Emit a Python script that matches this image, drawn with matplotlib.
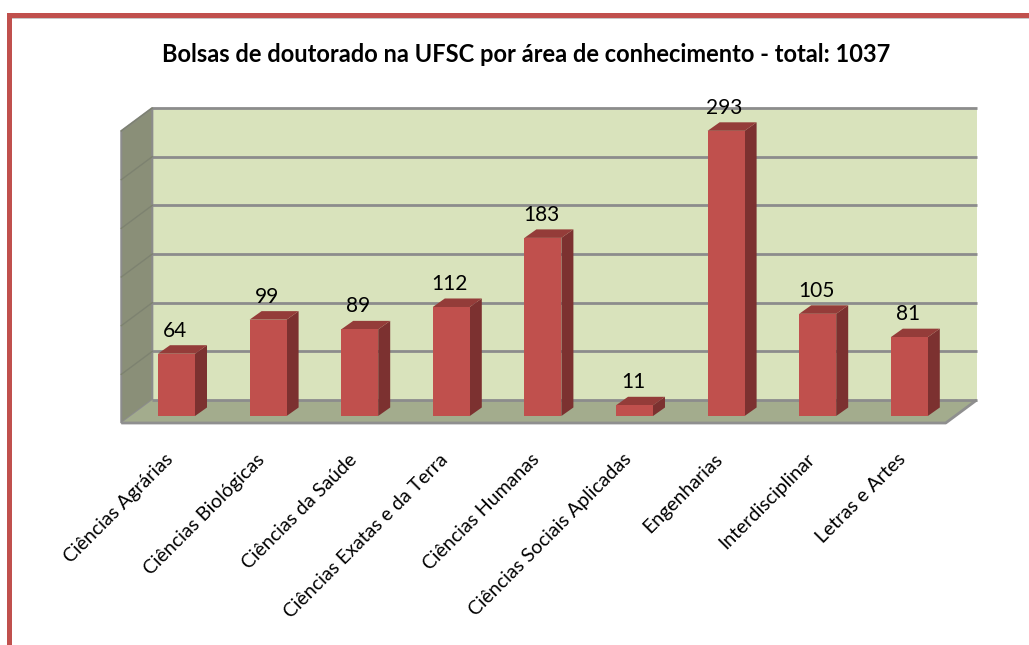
import numpy as np
import matplotlib
matplotlib.use('Agg')
import matplotlib.pyplot as plt
from matplotlib.patches import Polygon, Rectangle
from matplotlib.transforms import ScaledTranslation

categories = ['Ciências Agrárias', 'Ciências Biológicas', 'Ciências da Saúde',
              'Ciências Exatas e da Terra', 'Ciências Humanas', 'Ciências Sociais Aplicadas',
              'Engenharias', 'Interdisciplinar', 'Letras e Artes']
bolsas = [64, 99, 89, 112, 183, 11, 293, 105, 81]
grid_values = [0, 50, 100, 150, 200, 250, 300]
title = 'Bolsas de doutorado na UFSC por área de conhecimento - total: 1037'

W, H = 1029, 645
plt.rcParams['font.family'] = ['Lato', 'DejaVu Sans']

fig = plt.figure(figsize=(W/100, H/100), dpi=100, facecolor='white')
left, right, bottom, top = 130.7, 955.1, 416.0, 124.0
ax = fig.add_axes([left/W, 1-bottom/H, (right-left)/W, (bottom-top)/H])
ax.set_xlim(-0.5, 8.5)
ax.set_ylim(0, 300)
ax.patch.set_visible(False)
for s in ax.spines.values():
    s.set_visible(False)

xpx = (right-left)/9  # pixels per category
ypx = (bottom-top)/300  # pixels per unit

def ox(p): return p/xpx
def oy(p): return p/ypx

# depth offsets from the bar plane, in data units
back_x, back_y = ox(21.6), oy(16)
front_x, front_y = ox(-9.4), oy(-7)
bar_dx, bar_dy = ox(12), oy(8.5)
x0, x1 = -0.5, 8.5
line_grey = '#8C8C8C'

# back wall
ax.add_patch(Polygon([(x0+back_x, back_y), (x1+back_x, back_y), (x1+back_x, 300+back_y), (x0+back_x, 300+back_y)],
                     fc='#D9E3BC', ec='none', clip_on=False, zorder=1))
# side wall
ax.add_patch(Polygon([(x0+back_x, back_y), (x0+back_x, 300+back_y), (x0+front_x, 300+front_y), (x0+front_x, front_y)],
                     fc='#8A8F78', ec=line_grey, lw=1.5, clip_on=False, zorder=1))
# floor
ax.add_patch(Polygon([(x0+back_x, back_y), (x1+back_x, back_y), (x1+front_x, front_y), (x0+front_x, front_y)],
                     fc='#A3AC8D', ec='none', clip_on=False, zorder=1))
ax.plot([x0+front_x, x1+front_x, x1+back_x], [front_y, front_y, back_y], color='#8F8F8F', lw=2, clip_on=False, zorder=2, solid_capstyle='butt')

for v in grid_values:
    ax.plot([x0+back_x, x1+back_x], [v+back_y, v+back_y], color=line_grey, lw=2, clip_on=False, zorder=2, solid_capstyle='butt')
    if v > 0:
        ax.plot([x0+back_x, x0+front_x], [v+back_y, v+front_y], color='#7D8270', lw=1, clip_on=False, zorder=2)

# bars
pos = np.arange(len(bolsas))
width = 37/xpx
ax.bar(pos, bolsas, width=width, color='#C0504D', zorder=5, clip_on=False)
for x, v in zip(pos, bolsas):
    xl, xr = x-width/2, x+width/2
    ax.add_patch(Polygon([(xr, 0), (xr+bar_dx, bar_dy), (xr+bar_dx, v+bar_dy), (xr, v)],
                         fc='#7C3130', ec='none', clip_on=False, zorder=4))
    ax.add_patch(Polygon([(xl, v), (xr, v), (xr+bar_dx, v+bar_dy), (xl+bar_dx, v+bar_dy)],
                         fc='#943C39', ec='none', clip_on=False, zorder=4))
    ax.text(x-1.5/xpx, v+oy(23), str(v), ha='center', va='center', fontsize=15, color='black', zorder=6)

ax.set_yticks([])
ax.set_xticks(pos)
ax.set_xticklabels(categories, rotation=45, ha='right', va='top', rotation_mode='anchor', fontsize=14)
ax.tick_params(axis='x', length=0, pad=25)
# labels sit a bit left of the bar centre
shift = ScaledTranslation(-12/100, 0, fig.dpi_scale_trans)
for lab in ax.get_xticklabels():
    lab.set_transform(lab.get_transform() + shift)

fig.text(526/W, 1-54/H, title, ha='center', va='center', fontsize=17, fontweight='bold', color='black')

# slide frame
frame = '#C0504D'
fig.add_artist(Rectangle((7/W, 1-19/H), 1, 1/H, transform=fig.transFigure, fc='#C8C8C8', ec='none'))
fig.add_artist(Rectangle((7/W, 0), 5/W, 1-13/H, transform=fig.transFigure, fc=frame, ec='none'))
fig.add_artist(Rectangle((7/W, 1-18/H), 1, 5/H, transform=fig.transFigure, fc=frame, ec='none'))

fig.savefig('out.png', dpi=100, facecolor='white')
